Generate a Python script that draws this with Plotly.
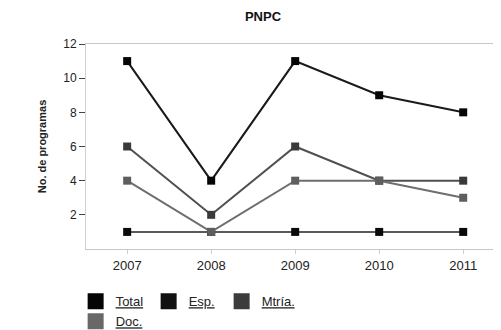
import plotly.graph_objects as go

years = [2007, 2008, 2009, 2010, 2011]
total = [11, 4, 11, 9, 8]
esp = [1, 1, 1, 1, 1]
mtria = [6, 2, 6, 4, 4]
doc = [4, 1, 4, 4, 3]

series_names = ["Total", "Esp.", "Mtría.", "Doc."]
series_values = [total, esp, mtria, doc]
line_colors = ["#1a1a1a", "#5a5a5a", "#505050", "#6e6e6e"]
marker_colors = ["#050505", "#0a0a0a", "#3a3a3a", "#5e5e5e"]
legend_colors = ["#050505", "#111111", "#3c3c3c", "#686868"]
legend_ids = ["legend", "legend", "legend", "legend2"]

fig = go.Figure()
for name, vals, lc, mc in zip(series_names, series_values, line_colors, marker_colors):
    fig.add_trace(go.Scatter(
        x=years, y=vals, mode="lines+markers", name=name, showlegend=False,
        line=dict(color=lc, width=2),
        marker=dict(symbol="square", size=8, color=mc),
    ))
for name, col, lg in zip(series_names, legend_colors, legend_ids):
    fig.add_trace(go.Scatter(
        x=[None], y=[None], mode="markers", name="<u>" + name + "</u>",
        legend=lg,
        marker=dict(symbol="square", size=16, color=col),
    ))

font_family = "Liberation Sans, Arial, sans-serif"
legend_common = dict(
    orientation="h", xanchor="left", yanchor="top",
    xref="container", yref="container",
    itemsizing="trace", entrywidth=28, entrywidthmode="pixels",
    font=dict(family=font_family, size=13, color="#222"),
    bgcolor="rgba(0,0,0,0)", tracegroupgap=0,
)
fig.update_layout(
    width=501, height=330,
    margin=dict(l=78, r=8, t=36, b=89, autoexpand=False),
    paper_bgcolor="white", plot_bgcolor="white",
    title=dict(text="<b>PNPC</b>", x=0.509, xanchor="center", y=0.973, yanchor="middle",
               font=dict(family=font_family, size=13, color="#111")),
    legend=dict(x=0.135, y=0.157, **legend_common),
    legend2=dict(x=0.135, y=0.096, **legend_common),
    xaxis=dict(
        range=[2006.51, 2011.45], tickvals=years, ticktext=[str(y) for y in years],
        showgrid=False, showline=True, linecolor="#c8c8c8", linewidth=1, mirror=True,
        ticks="outside", ticklen=4, tickcolor="#cccccc",
        tickfont=dict(family=font_family, size=13, color="#222"), zeroline=False,
    ),
    yaxis=dict(
        range=[0, 12], tickvals=[2, 4, 6, 8, 10, 12],
        showgrid=False, showline=True, linecolor="#d0d0d0", linewidth=1,
        ticks="outside", ticklen=6, tickcolor="#444",
        tickfont=dict(family=font_family, size=12, color="#222"), zeroline=False,
        title=dict(text="<b>No. de programas</b>", standoff=14,
                   font=dict(family=font_family, size=11, color="#222")),
    ),
)
fig.write_html("out.html")
